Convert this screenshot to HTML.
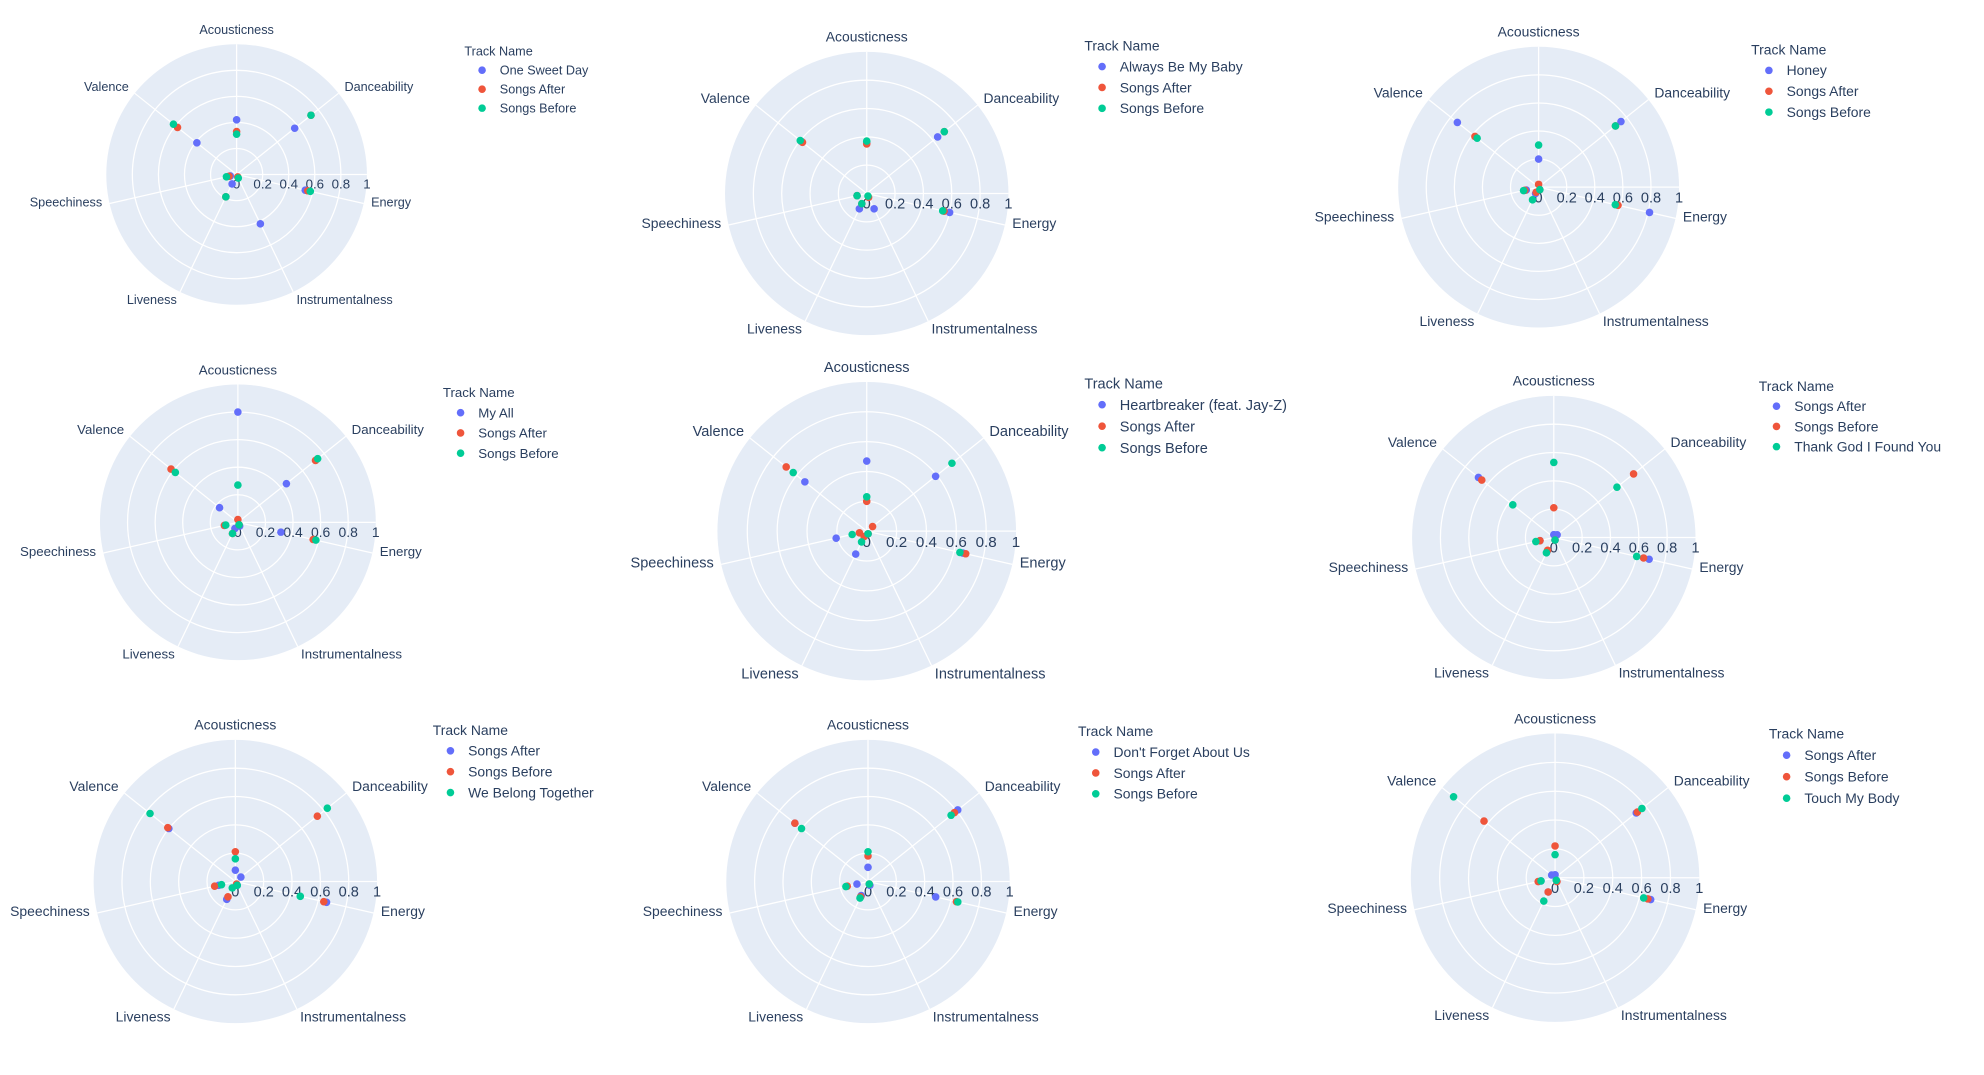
<!DOCTYPE html>
<html><head><meta charset="utf-8"><style>
html,body{margin:0;padding:0;background:#fff}
svg{display:block}
text{font-family:"Liberation Sans",sans-serif;fill:#2a3f5f}
</style></head><body>
<svg id="root" width="1984" height="1075" viewBox="0 0 1568 850" preserveAspectRatio="none" xmlns="http://www.w3.org/2000/svg"></svg>
<script>
const features = ["Acousticness","Danceability","Energy","Instrumentalness","Liveness","Speechiness","Valence"];
const tickValues = [0,0.2,0.4,0.6,0.8,1];
const tickLabels = ["0","0.2","0.4","0.6","0.8","1"];
const colors = ["#636efa","#EF553B","#00cc96"];
const traceNames = [
 ["One Sweet Day","Songs After","Songs Before"],
 ["Always Be My Baby","Songs After","Songs Before"],
 ["Honey","Songs After","Songs Before"],
 ["My All","Songs After","Songs Before"],
 ["Heartbreaker (feat. Jay-Z)","Songs After","Songs Before"],
 ["Songs After","Songs Before","Thank God I Found You"],
 ["Songs After","Songs Before","We Belong Together"],
 ["Don't Forget About Us","Songs After","Songs Before"],
 ["Songs After","Songs Before","Touch My Body"]
];
const seriesBlue = [
 [0.42,0.57,0.54,0.42,0.08,0.05,0.39],
 [0.36,0.64,0.60,0.12,0.12,0.07,0.59],
 [0.20,0.75,0.81,0.02,0.05,0.09,0.74],
 [0.80,0.45,0.32,0.03,0.05,0.10,0.17],
 [0.47,0.59,0.66,0.02,0.17,0.21,0.53],
 [0.02,0.03,0.69,0.02,0.11,0.10,0.68],
 [0.08,0.05,0.66,0.03,0.14,0.12,0.60],
 [0.10,0.81,0.49,0.03,0.11,0.08,0.66],
 [0.02,0.72,0.68,0.02,0.11,0.10,0.03]
];
const seriesRed = [
 [0.33,0.73,0.56,0.02,0.19,0.06,0.58],
 [0.35,0.70,0.56,0.03,0.08,0.07,0.58],
 [0.02,0.70,0.58,0.02,0.04,0.10,0.58],
 [0.02,0.72,0.56,0.02,0.09,0.10,0.62],
 [0.20,0.05,0.68,0.02,0.04,0.05,0.69],
 [0.21,0.72,0.65,0.02,0.10,0.10,0.65],
 [0.21,0.74,0.64,0.02,0.12,0.15,0.61],
 [0.18,0.78,0.64,0.02,0.12,0.15,0.66],
 [0.22,0.73,0.66,0.03,0.11,0.12,0.63]
];
const seriesGreen = [
 [0.31,0.73,0.58,0.03,0.19,0.08,0.62],
 [0.37,0.70,0.55,0.02,0.08,0.07,0.60],
 [0.30,0.70,0.56,0.02,0.10,0.11,0.56],
 [0.27,0.74,0.58,0.02,0.09,0.09,0.58],
 [0.23,0.73,0.64,0.02,0.08,0.10,0.63],
 [0.53,0.57,0.60,0.02,0.12,0.13,0.37],
 [0.16,0.83,0.47,0.03,0.05,0.10,0.77],
 [0.21,0.75,0.65,0.02,0.13,0.16,0.60],
 [0.16,0.77,0.63,0.02,0.18,0.10,0.90]
];
// layout (not data)
const layout = [
 {cx:187,cy:138,r:103,lx:367,ly:44,fs:10,gap:15},
 {cx:685,cy:153,r:112,lx:857,ly:40,fs:11,gap:16.5},
 {cx:1216,cy:148,r:111,lx:1384,ly:43,fs:11,gap:16.5},
 {cx:188,cy:413,r:109,lx:350,ly:314,fs:10.5,gap:16},
 {cx:685,cy:420,r:118,lx:857,ly:307,fs:11.5,gap:17},
 {cx:1228,cy:425,r:112,lx:1390,ly:309,fs:11,gap:16},
 {cx:186,cy:697,r:112,lx:342,ly:581,fs:11,gap:16.5},
 {cx:686,cy:697,r:112,lx:852,ly:582,fs:11,gap:16.5},
 {cx:1229,cy:694,r:114,lx:1398,ly:584,fs:11,gap:17}
];
const NS="http://www.w3.org/2000/svg";
const root=document.getElementById('root');
function mk(tag,attrs,parent){const e=document.createElementNS(NS,tag);for(const k in attrs)e.setAttribute(k,attrs[k]);parent.appendChild(e);return e;}
function angle(i){return (90-i*360/features.length)*Math.PI/180;}
layout.forEach((L,ci)=>{
 const g=mk('g',{},root);
 
 
 const rad=v=>v*L.r;
 const px=(i,v)=>L.cx+rad(v)*Math.cos(angle(i));
 const py=(i,v)=>L.cy-rad(v)*Math.sin(angle(i));
 const bg=mk('circle',{cx:L.cx,cy:L.cy,r:L.r,fill:'#e5ecf6'},g);
 
 
 tickValues.slice(1,-1).forEach(v=>{
  const c=mk('circle',{cx:L.cx,cy:L.cy,r:rad(v),fill:'none',stroke:'#fff','stroke-width':1},g);
  
  
 });
 features.forEach((f,i)=>{
  const ln=mk('line',{x1:L.cx,y1:L.cy,x2:px(i,1),y2:py(i,1),stroke:'#fff','stroke-width':1},g);
  
  
 });
 mk('line',{x1:L.cx,y1:L.cy,x2:L.cx+L.r,y2:L.cy,stroke:'#fff','stroke-width':1},g);
 features.forEach((f,i)=>{
  const a=angle(i),c=Math.cos(a),s=Math.sin(a);
  const x=L.cx+(L.r+6)*c,y=L.cy-(L.r+6)*s;
  const anchor=c>0.15?'start':(c<-0.15?'end':'middle');
  let dy;
  if(s>0.95) dy=-2;
  else if(s>0.3) dy=2;
  else if(s>=-0.3) dy=L.fs*0.1;
  else dy=L.fs*0.4;
  const t=mk('text',{x:x,y:y+dy,'text-anchor':anchor,'font-size':L.fs},g);
  t.textContent=f;
  
  
 });
 tickValues.forEach((v,k)=>{
  const t=mk('text',{x:L.cx+rad(v),y:L.cy+L.fs+1,'text-anchor':'middle','font-size':L.fs+0.5},g);
  t.textContent=tickLabels[k];
  
  
 });
 const sets=[seriesBlue[ci],seriesRed[ci],seriesGreen[ci]];
 sets.forEach((vals,si)=>{
  vals.forEach((v,i)=>{
   const d=mk('circle',{cx:px(i,v),cy:py(i,v),r:3,fill:colors[si]},g);
   
   
  });
 });
 const lg=mk('g',{},g);
 
 
 const tt=mk('text',{x:L.lx,y:L.ly,'font-size':L.fs},lg);
 tt.textContent='Track Name';
 
 
 traceNames[ci].forEach((n,si)=>{
  const y=L.ly+L.gap*(si+1);
  const e=mk('g',{},lg);
  
  
  mk('circle',{cx:L.lx+14,cy:y-L.fs*0.35,r:3,fill:colors[si]},e);
  const t=mk('text',{x:L.lx+28,y:y,'font-size':L.fs},e);
  t.textContent=n;
 });
});
</script>
</body></html>
